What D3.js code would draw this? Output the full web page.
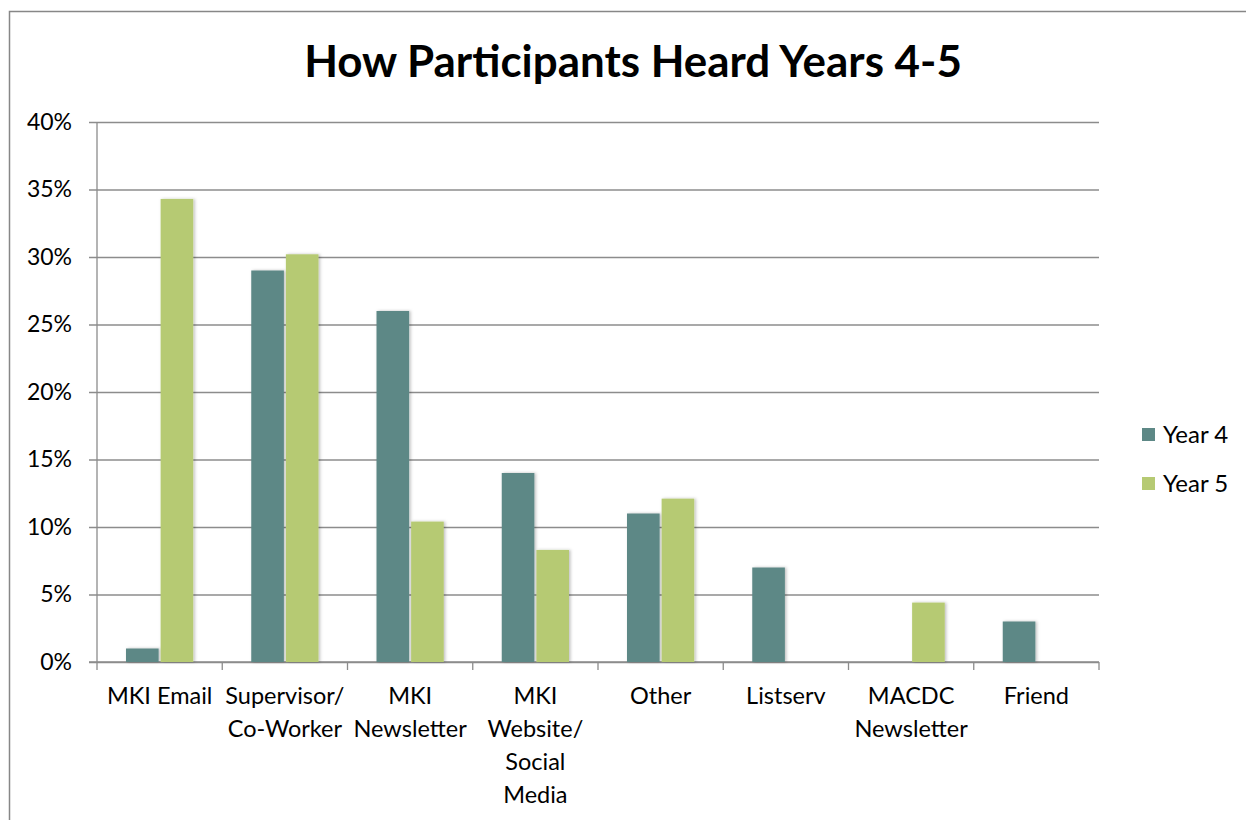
<!DOCTYPE html>
<html>
<head>
<meta charset="utf-8">
<script src="https://cdn.jsdelivr.net/npm/d3@7"></script>
<style>
  body { margin: 0; background: white; }
  svg { display: block; font-family: Lato, "Open Sans", sans-serif; }
</style>
</head>
<body>
<svg id="grafico" width="1246" height="820"></svg>
<script>

//DATI

var categorie = [
    ["MKI Email"],
    ["Supervisor/", "Co-Worker"],
    ["MKI", "Newsletter"],
    ["MKI", "Website/", "Social", "Media"],
    ["Other"],
    ["Listserv"],
    ["MACDC", "Newsletter"],
    ["Friend"]
];

var serie = ["Year 4", "Year 5"];
var anno4 = [1, 29, 26, 14, 11, 7, 0, 3];
var anno5 = [34.3, 30.2, 10.4, 8.3, 12.1, 0, 4.4, 0];
var tickY = [0, 5, 10, 15, 20, 25, 30, 35, 40];

var colori = ["#5d8886", "#b6ca73"];

//VARIABILI

var svg = d3.select("#grafico");

var margine = { sinistra: 97, destra: 1099, alto: 122, basso: 662 };

var x = d3.scaleBand()
    .domain(d3.range(categorie.length))
    .range([margine.sinistra, margine.destra])
    .paddingInner(0)
    .paddingOuter(0);

var xInterno = d3.scaleBand()
    .domain(serie)
    .range([28, x.bandwidth() - 28]);

var y = d3.scaleLinear()
    .domain([0, 40])
    .range([margine.basso, margine.alto]);

//FUNZIONI

function disegnaCornice(){

    svg.append("path")
        .attr("d", "M9.5,830 L9.5,11.5 L1260,11.5")
        .attr("fill", "none")
        .attr("stroke", "#878787")
        .attr("stroke-width", 1.5);

}

function disegnaTitolo(){

    var t = svg.append("text")
        .attr("x", 633)
        .attr("y", 77)
        .attr("text-anchor", "middle")
        .style("font-size", "37px")
        .style("font-weight", "bold")
        .attr("fill", "black")
        .text("How Participants Heard Years 4-5");

    var w = t.node().getComputedTextLength();
    t.style("font-size", (37 * 658 / w) + "px");

}

function disegnaAssi(){

    var assey = d3.axisLeft(y)
        .tickValues(tickY)
        .tickSize(margine.sinistra - margine.destra)
        .tickFormat(d => d + "%");

    var gy = svg.append("g")
        .attr("transform", "translate(" + margine.sinistra + ",0)")
        .call(assey);

    gy.select(".domain").remove();
    gy.selectAll(".tick line")
        .attr("x1", -8)
        .attr("stroke", "#8c8c8c")
        .attr("stroke-width", 1.3);
    gy.selectAll(".tick text")
        .attr("x", -25)
        .style("font-size", "23px")
        .style("font-family", "Lato, 'Open Sans', sans-serif")
        .attr("fill", "black");

    svg.append("line")
        .attr("x1", margine.sinistra)
        .attr("x2", margine.sinistra)
        .attr("y1", margine.alto)
        .attr("y2", margine.basso)
        .attr("stroke", "#8c8c8c")
        .attr("stroke-width", 1.3);

    svg.append("line")
        .attr("x1", margine.sinistra - 8)
        .attr("x2", margine.destra)
        .attr("y1", margine.basso)
        .attr("y2", margine.basso)
        .attr("stroke", "#8c8c8c")
        .attr("stroke-width", 1.3);

    var confini = d3.range(categorie.length + 1).map(i => margine.sinistra + i * x.step());

    svg.selectAll(".tacca")
        .data(confini)
        .enter()
        .append("line")
        .attr("class", "tacca")
        .attr("x1", d => d)
        .attr("x2", d => d)
        .attr("y1", margine.basso)
        .attr("y2", margine.basso + 8)
        .attr("stroke", "#8c8c8c")
        .attr("stroke-width", 1.3);

    var etichette = svg.selectAll(".etichetta")
        .data(categorie)
        .enter()
        .append("text")
        .attr("class", "etichetta")
        .attr("text-anchor", "middle")
        .style("font-size", "23.5px")
        .attr("fill", "black")
        .attr("transform", (d, i) => "translate(" + (x(i) + x.bandwidth() / 2) + ",704)");

    etichette.selectAll("tspan")
        .data(d => d)
        .enter()
        .append("tspan")
        .attr("x", 0)
        .attr("y", (d, i) => i * 33)
        .text(d => d);

}

function disegnaBarre(){

    var righe = categorie.map((c, i) => ({ indice: i, valori: [anno4[i], anno5[i]] }));

    var filtro = svg.append("defs").append("filter")
        .attr("id", "ombra")
        .attr("x", "-20%").attr("y", "-20%")
        .attr("width", "140%").attr("height", "140%");
    filtro.append("feDropShadow")
        .attr("dx", 1.5).attr("dy", 0)
        .attr("stdDeviation", 1.5)
        .attr("flood-color", "#000")
        .attr("flood-opacity", 0.25);

    var gruppi = svg.selectAll(".gruppo")
        .data(righe)
        .enter()
        .append("g")
        .attr("class", "gruppo")
        .attr("transform", d => "translate(" + x(d.indice) + ",0)");

    gruppi.selectAll("rect")
        .data(d => d.valori.map((v, j) => ({ serie: serie[j], valore: v, colore: colori[j] })).filter(b => b.valore > 0))
        .enter()
        .append("rect")
        .attr("x", d => xInterno(d.serie) + 1)
        .attr("width", xInterno.bandwidth() - 2)
        .attr("y", d => y(d.valore))
        .attr("height", d => y(0) - y(d.valore))
        .attr("fill", d => d.colore)
        .attr("filter", "url(#ombra)");

}

function disegnaLegenda(){

    var voci = svg.selectAll(".voce")
        .data(serie)
        .enter()
        .append("g")
        .attr("class", "voce")
        .attr("transform", (d, i) => "translate(1142," + (428 + i * 49) + ")");

    voci.append("rect")
        .attr("width", 13)
        .attr("height", 13)
        .attr("fill", (d, i) => colori[i]);

    voci.append("text")
        .attr("x", 21)
        .attr("y", 15)
        .style("font-size", "24px")
        .attr("fill", "black")
        .text(d => d);

}

disegnaCornice();
disegnaTitolo();
disegnaAssi();
disegnaBarre();
disegnaLegenda();

</script>
</body>
</html>
